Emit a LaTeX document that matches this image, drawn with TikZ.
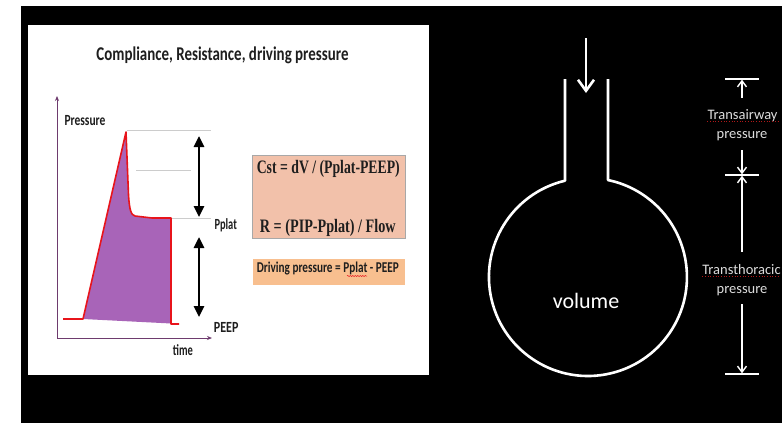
\documentclass[tikz,border=0pt]{standalone}
\usepackage{fontspec}
\setmainfont{Carlito}
\newfontfamily\formfont{Liberation Serif}
\usetikzlibrary{arrows.meta,decorations.pathmorphing}
\definecolor{axispurple}{HTML}{6E3B6E}
\definecolor{fillpurple}{HTML}{A864B8}
\definecolor{curvered}{HTML}{E8141B}
\definecolor{gridgray}{HTML}{CCCCCC}
\definecolor{boxsalmon}{HTML}{F2C1AA}
\definecolor{boxorange}{HTML}{F8BF8F}
\definecolor{boxedge}{HTML}{A8A8A8}
\definecolor{darktext}{HTML}{1E1E1E}
\definecolor{lighttext}{HTML}{DDDDDD}
\definecolor{spellred}{HTML}{B01818}
\newcommand\fitw[2]{\resizebox{#1pt}{\height}{#2}}
\tikzset{
  axisline/.style={draw=axispurple, line width=1pt, -{Stealth[length=5pt,width=4pt]}},
  guide/.style={draw=gridgray, line width=0.7pt},
  bigdbl/.style={line width=2.6pt, {Triangle[length=11pt,width=10pt]}-{Triangle[length=11pt,width=10pt]}},
  chartlabel/.style={text=darktext, font=\fontsize{15.5}{18}\selectfont\bfseries, inner sep=0pt},
  formtext/.style={text=darktext, font=\formfont\fontsize{19}{22}\selectfont\bfseries, inner sep=0pt, anchor=base},
  whiteline/.style={draw=white, line width=2.6pt},
  dimline/.style={draw=white, line width=1.4pt},
  dimarrow/.style={draw=white, line width=1.4pt, -{Straight Barb[length=6pt,width=9pt,line width=1.4pt]}},
  dimlabel/.style={text=lighttext, font=\fontsize{14.5}{17}\selectfont, inner sep=0pt, anchor=base},
  spell/.style={draw=spellred, line width=0.7pt, dotted},
}
\begin{document}
\begin{tikzpicture}[x=1pt,y=-1pt]
\useasboundingbox (0,0) rectangle (782,423);
\fill[white] (0,0) rectangle (782,423);
\fill[black] (21,6) rectangle (782,423);
\fill[white] (28,25) rectangle (429,375);

% title
\node[text=darktext, font=\fontsize{19.5}{22}\selectfont\bfseries, inner sep=0pt, anchor=base] (title) at (222.5,60.5) {\fitw{252}{Compliance, Resistance, driving pressure}};

% axes
\coordinate (origin) at (57,338);
\coordinate (ytop) at (57,96);
\coordinate (xend) at (212,338);
\draw[axisline] (origin) -- (ytop);
\draw[axisline] (origin) -- (xend);
\node[chartlabel, anchor=base west] (plabel) at (64.3,125) {\fitw{41}{Pressure}};
\node[chartlabel, anchor=base west] (tlabel) at (172.7,355) {\fitw{20}{time}};

% guide lines
\draw[guide] (127,130) -- (211,130);
\draw[guide] (136,170.5) -- (191,170.5);
\draw[guide] (171,218) -- (211,218);

% filled area
\fill[fillpurple] (83,319) -- (126,132) -- (128.5,195) .. controls (129.5,210) and (131,215) .. (135,216) -- (152,218) -- (171,218) -- (171,323.5) -- cycle;
\draw[curvered, line width=1.6pt, line join=round] (63,319) -- (83,319) -- (126,132) -- (128.5,195) .. controls (129.5,210) and (131,215) .. (135,216) -- (152,218) -- (171,218) -- (171,324) -- (179,324);

% level labels
\node[chartlabel, anchor=base west] (pplat) at (214.3,229.3) {\fitw{22.4}{Pplat}};
\node[chartlabel, anchor=base west] (peep) at (213.7,332.7) {\fitw{24.6}{PEEP}};

% double arrows
\coordinate (a1t) at (199,136);
\coordinate (a1b) at (199,217);
\coordinate (a2t) at (199,237);
\coordinate (a2b) at (199,317);
\draw[bigdbl] (a1t) -- (a1b);
\draw[bigdbl] (a2t) -- (a2b);

% formula boxes
\node[draw=boxedge, fill=boxsalmon, line width=0.8pt, minimum width=153pt, minimum height=83pt, inner sep=0pt] (box1) at (328.5,196.5) {};
\node[formtext] (cst) at (328.3,173.3) {\fitw{143}{Cst = dV / (Pplat-PEEP)}};
\node[formtext] (rform) at (327.8,232.3) {\fitw{135.7}{R = (PIP-Pplat) / Flow}};
\node[fill=boxorange, minimum width=152pt, minimum height=26pt, inner sep=0pt] (box2) at (329,272) {};
\node[text=darktext, font=\fontsize{15}{17}\selectfont\bfseries, inner sep=0pt, anchor=base] (drive) at (327.8,272.7) {\fitw{142}{Driving pressure = Pplat - PEEP}};
\draw[curvered, line width=0.5pt, decorate, decoration={snake, amplitude=0.6pt, segment length=2.5pt}] (347,276) -- (367,276);

% right side: flask
\coordinate (tl) at (565,79);
\coordinate (tr) at (608,79);
\coordinate (center) at (588,277);
\draw[whiteline, line join=round] (tl) -- (565,177) -- (565,180.7) arc[start angle=-103.4, end angle=-438.3, radius=99] -- (608,177) -- (tr);
\node[text=white, font=\fontsize{22}{26}\selectfont, inner sep=0pt, anchor=base] (vol) at (586,308.3) {volume};

% inflow arrow
\coordinate (inA) at (586,38);
\coordinate (inB) at (586,93);
\draw[draw=white, line width=2.6pt, -{Straight Barb[length=11pt,width=16pt,line width=2.6pt]}] (inA) -- (inB);

% dimension bars
\coordinate (b1l) at (725,79);  \coordinate (b1r) at (759,79);
\coordinate (b2l) at (725,175); \coordinate (b2r) at (759,175);
\coordinate (b3l) at (725,374); \coordinate (b3r) at (759,374);
\draw[dimline] (b1l) -- (b1r);
\draw[dimline] (b2l) -- (b2r);
\draw[dimline] (b3l) -- (b3r);

\node[dimlabel] (ta) at (742.5,119.3) {Transairway};
\node[dimlabel] (tap) at (742,138.3) {pressure};
\node[dimlabel] (tt) at (741.5,274.3) {Transthoracic};
\node[dimlabel] (ttp) at (742,293.3) {pressure};
\draw[spell] (ta.base west) ++(0,2.5) -- ++(71,0);
\draw[spell] (tt.base west) ++(0,2.5) -- ++(77,0);

\coordinate (d1) at (742,98);
\coordinate (d1e) at (742,79.7);
\coordinate (d2) at (742,150);
\coordinate (d2e) at (742,174.3);
\coordinate (d3) at (742,252);
\coordinate (d3e) at (742,175.7);
\coordinate (d4) at (742,304);
\coordinate (d4e) at (742,373.3);
\draw[dimarrow] (d1) -- (d1e);
\draw[dimarrow] (d2) -- (d2e);
\draw[dimarrow] (d3) -- (d3e);
\draw[dimarrow] (d4) -- (d4e);
\end{tikzpicture}
\end{document}
